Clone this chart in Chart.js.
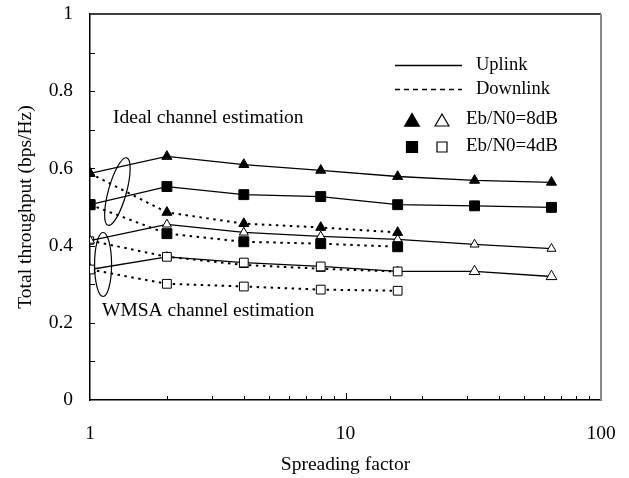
<!DOCTYPE html>
<html>
<head>
<meta charset="utf-8">
<script src="https://cdn.jsdelivr.net/npm/chart.js@4/dist/chart.umd.min.js"></script>
<style>
html,body{margin:0;padding:0;background:#fff;}
#wrap{width:629px;height:478px;position:relative;}
</style>
</head>
<body>
<div id="wrap"><canvas id="c" width="629" height="478"></canvas></div>
<script>
// ---- data ----
const spreadingFactors = [1, 2, 4, 8, 16, 32, 64];
const spreadingFactorsDown = [1, 2, 4, 8, 16];
const idealUp8 = [0.587, 0.631, 0.610, 0.595, 0.579, 0.569, 0.564];
const idealUp4 = [0.506, 0.553, 0.532, 0.527, 0.506, 0.503, 0.499];
const idealDown8 = [0.587, 0.486, 0.457, 0.447, 0.434];
const idealDown4 = [0.506, 0.431, 0.410, 0.405, 0.397];
const wmsaUp8 = [0.413, 0.455, 0.434, 0.424, 0.416, 0.403, 0.392];
const wmsaUp4 = [0.338, 0.371, 0.356, 0.346, 0.333, 0.333, 0.320];
const wmsaDown8 = [0.413, 0.371, 0.350, 0.340, 0.333];
const wmsaDown4 = [0.338, 0.301, 0.294, 0.286, 0.283];
const xTickLabels = [1, 10, 100];
const yTickLabels = [0, 0.2, 0.4, 0.6, 0.8, 1];
const legendLines = ['Uplink', 'Downlink'];
const legendSnr = ['Eb/N0=8dB', 'Eb/N0=4dB'];
const annotations = ['Ideal channel estimation', 'WMSA channel estimation'];

const FONT = '"Liberation Serif", "Times New Roman", serif';
const FS = 19.5;
const pts = (xs, ys) => xs.map((x, i) => ({x: x, y: ys[i]}));
const DOT = [2.5, 4.5];

function ds(label, xs, ys, style, filled, dotted, radius, styles) {
  return {
    label: label,
    data: pts(xs, ys),
    borderColor: '#000',
    borderWidth: dotted ? 2 : 1.3,
    borderDash: dotted ? DOT : [],
    borderCapStyle: 'butt',
    pointStyle: styles || style,
    pointRadius: radius,
    pointBackgroundColor: filled ? '#000' : '#fff',
    pointBorderColor: '#000',
    pointBorderWidth: 1,
    fill: false,
    tension: 0
  };
}

const datasets = [
  ds('Ideal uplink 8dB', spreadingFactors, idealUp8, 'triangle', true, false, 5.8),
  ds('Ideal uplink 4dB', spreadingFactors, idealUp4, 'rect', true, false, 7),
  ds('Ideal downlink 8dB', spreadingFactorsDown, idealDown8, 'triangle', true, true, 5.8),
  ds('Ideal downlink 4dB', spreadingFactorsDown, idealDown4, 'rect', true, true, 7),
  ds('WMSA uplink 8dB', spreadingFactors, wmsaUp8, 'triangle', false, false, 5.2),
  ds('WMSA uplink 4dB', spreadingFactors, wmsaUp4, 'rect', false, false, 6.2,
     ['rect', 'rect', 'rect', 'rect', 'rect', 'triangle', 'triangle']),
  ds('WMSA downlink 8dB', spreadingFactorsDown, wmsaDown8, 'triangle', false, true, 5.2,
     ['rect', 'triangle', 'triangle', 'triangle', 'triangle']),
  ds('WMSA downlink 4dB', spreadingFactorsDown, wmsaDown4, 'rect', false, true, 6.2,
     ['triangle', 'rect', 'rect', 'rect', 'rect'])
];

function tri(ctx, x, y, r, filled) {
  ctx.beginPath();
  ctx.moveTo(x, y - r);
  ctx.lineTo(x + r * 0.866, y + r * 0.5);
  ctx.lineTo(x - r * 0.866, y + r * 0.5);
  ctx.closePath();
  ctx.fillStyle = filled ? '#000' : '#fff';
  ctx.fill();
  ctx.lineWidth = 1.2; ctx.strokeStyle = '#000'; ctx.stroke();
}
function sq(ctx, x, y, s, filled) {
  ctx.beginPath();
  ctx.rect(x - s / 2, y - s / 2, s, s);
  ctx.fillStyle = filled ? '#000' : '#fff';
  ctx.fill();
  ctx.lineWidth = 1.2; ctx.strokeStyle = '#000'; ctx.stroke();
}

const decor = {
  id: 'decor',
  afterDraw(chart) {
    const ctx = chart.ctx, a = chart.chartArea;
    const xs = chart.scales.x, ys = chart.scales.y;
    ctx.save();
    // frame: top black, right grey
    ctx.strokeStyle = '#000'; ctx.lineWidth = 1.5;
    ctx.beginPath(); ctx.moveTo(a.left, a.top); ctx.lineTo(a.right, a.top); ctx.stroke();
    ctx.strokeStyle = '#8a8a8a'; ctx.lineWidth = 2;
    ctx.beginPath(); ctx.moveTo(a.right, a.top); ctx.lineTo(a.right, a.bottom); ctx.stroke();
    // inward ticks
    ctx.strokeStyle = '#000'; ctx.lineWidth = 1;
    for (let i = 1; i < 10; i++) {
      const py = Math.round(ys.getPixelForValue(i / 10)) + 0.5;
      ctx.beginPath(); ctx.moveTo(a.left, py); ctx.lineTo(a.left + 5, py); ctx.stroke();
    }
    xs.ticks.forEach(t => {
      if (t.value <= xs.min || t.value >= xs.max) return;
      const px = Math.round(xs.getPixelForValue(t.value)) + 0.5;
      const len = (t.value === 10) ? 7 : 4;
      ctx.beginPath(); ctx.moveTo(px, a.bottom); ctx.lineTo(px, a.bottom - len); ctx.stroke();
    });
    // ellipses around grouped curves
    ctx.lineWidth = 1.2;
    ctx.beginPath();
    ctx.ellipse(xs.getPixelForValue(1.28), ys.getPixelForValue(0.54), 9, 35, 15.5 * Math.PI / 180, 0, 2 * Math.PI);
    ctx.stroke();
    ctx.beginPath();
    ctx.ellipse(xs.getPixelForValue(1.125), ys.getPixelForValue(0.351), 8.5, 32, 0, 0, 2 * Math.PI);
    ctx.stroke();
    // annotation texts
    ctx.fillStyle = '#000';
    ctx.font = FS + 'px ' + FONT;
    ctx.textBaseline = 'middle';
    ctx.textAlign = 'left';
    ctx.fillText(annotations[0], 113, 118);
    ctx.fillText(annotations[1], 102, 311);
    // legend
    ctx.lineWidth = 1.3;
    ctx.beginPath(); ctx.moveTo(395, 65.5); ctx.lineTo(462, 65.5); ctx.stroke();
    ctx.setLineDash([5, 4]); ctx.lineWidth = 1.6;
    ctx.beginPath(); ctx.moveTo(395, 89.5); ctx.lineTo(462, 89.5); ctx.stroke();
    ctx.setLineDash([]);
    ctx.fillStyle = '#000';
    ctx.font = '18.5px ' + FONT;
    ctx.fillText(legendLines[0], 476, 65);
    ctx.fillText(legendLines[1], 476, 89);
    tri(ctx, 412, 122, 8.5, true);
    tri(ctx, 442, 122, 8, false);
    sq(ctx, 412, 147, 11, true);
    sq(ctx, 442, 147, 10, false);
    ctx.fillStyle = '#000';
    ctx.font = '19px ' + FONT;
    ctx.fillText(legendSnr[0], 466, 119);
    ctx.fillText(legendSnr[1], 466, 146);
    ctx.restore();
  }
};

new Chart(document.getElementById('c'), {
  type: 'line',
  data: { datasets: datasets },
  plugins: [decor],
  options: {
    responsive: false,
    animation: false,
    devicePixelRatio: 1,
    layout: { padding: { left: 0, right: 28, top: 14, bottom: 0 } },
    plugins: { legend: { display: false }, tooltip: { enabled: false } },
    scales: {
      x: {
        type: 'logarithmic',
        min: 1, max: 100,
        afterFit: s => { s.height = 78; s.paddingLeft = 0; s.paddingRight = 0; },
        grid: { display: false, drawTicks: false },
        border: { display: true, color: '#000', width: 1.5 },
        ticks: {
          autoSkip: false, maxRotation: 0, padding: 22,
          color: '#000', font: { family: FONT, size: FS },
          callback: (v) => xTickLabels.includes(v) ? String(v) : ''
        },
        title: { display: true, text: 'Spreading factor', color: '#000',
                 font: { family: FONT, size: FS }, padding: { top: 0, bottom: 1 } }
      },
      y: {
        min: 0, max: 1,
        afterFit: s => { s.width = 90; s.paddingTop = 0; s.paddingBottom = 0; },
        afterBuildTicks: s => { s.ticks = yTickLabels.map(v => ({ value: v })); },
        grid: { display: false, drawTicks: false },
        border: { display: true, color: '#000', width: 1.5 },
        ticks: {
          padding: 17, color: '#000', font: { family: FONT, size: FS },
          callback: (v) => String(Number(v.toFixed(1)))
        },
        title: { display: true, text: 'Total throughput (bps/Hz)', color: '#000',
                 font: { family: FONT, size: FS }, padding: { top: 14, bottom: 0 } }
      }
    }
  }
});
</script>
</body>
</html>
